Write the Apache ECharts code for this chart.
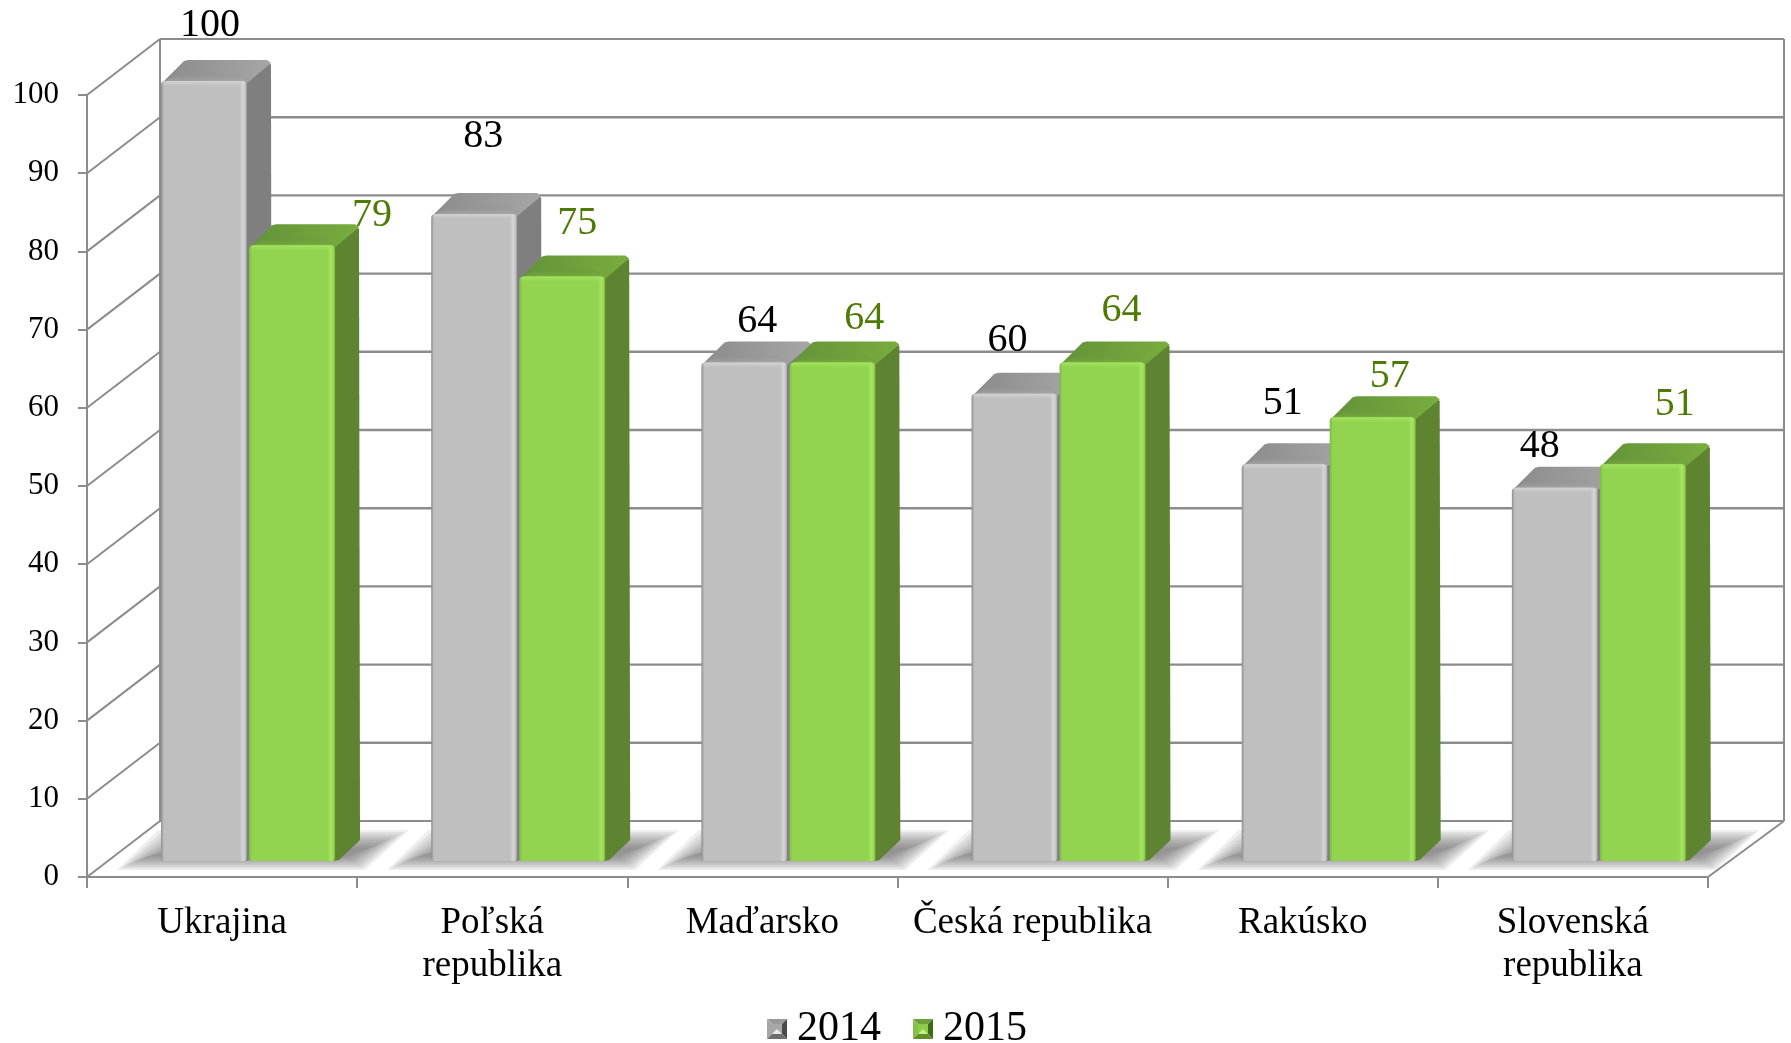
<!DOCTYPE html>
<html><head><meta charset="utf-8"><style>html,body{margin:0;background:#fff}#c{width:1791px;height:1043px}</style>
<script src="https://cdn.jsdelivr.net/npm/echarts@6/dist/echarts.min.js"></script></head>
<body><div id="c"></div><script>
const categories = ['Ukrajina','Poľská\nrepublika','Maďarsko','Česká republika','Rakúsko','Slovenská\nrepublika'];
const yTicks = [0,10,20,30,40,50,60,70,80,90,100];
const values2014 = [100,83,64,60,51,48];
const values2015 = [79,75,64,64,57,51];
// manually-moved data label offsets (px, from the bar's front top centre)
const labelShift2014 = [[6,-56],[9,-77],[13,-41],[-7,-53],[-2,-61],[-15,-41]];
const labelShift2015 = [[80,-30],[15,-53],[32,-44],[19,-52],[17,-41],[32,-60]];

const FONT = '"Liberation Serif","Times New Roman",serif';
const AXIS = '#8c8c8c';
const WALL = {dxL:73, dxR:76, dy:56};
const DEPTH = {dx:25, dy:21, baseUp:16, shift:0.096, width:0.322};
const GRAY = {front:'#bfbfbf', edgeL:'#8d8d8d', edgeR:'#d6d6d6', edgeO:'#8f8f8f', topB:'#8b8b8b', topF:'#b4b4b4', topR:'#a6a6a6', side:'#7f7f7f', bev:'#d2d2d2', label:'#000'};
const GREEN = {front:'#92d350', edgeL:'#7db843', edgeR:'#a6e760', edgeO:'#7fb845', topB:'#63923a', topF:'#7fb840', topR:'#78ad3e', side:'#5f8431', bev:'#a4e35f', label:'#4f7a05'};

function hgrad(stops){return {type:'linear',x:0,y:0,x2:1,y2:0,colorStops:stops};}
function vgrad(stops){return {type:'linear',x:0,y:0,x2:0,y2:1,colorStops:stops};}

function wallItem(params, api){
  const c = params.coordSys, v = api.value(1), p = api.coord([0,v]);
  const x0 = c.x, x1 = c.x + c.width, y = p[1];
  const kids = [
    {type:'line',shape:{x1:x0,y1:y,x2:x0+WALL.dxL,y2:y-WALL.dy},style:{stroke:AXIS,lineWidth:2}},
    {type:'line',shape:{x1:x0+WALL.dxL,y1:y-WALL.dy,x2:x1+WALL.dxR,y2:y-WALL.dy},style:{stroke:AXIS,lineWidth:v===0||v===100?2:2.4}}
  ];
  if(v===0){
    const top = api.coord([0,100])[1];
    kids.push({type:'line',shape:{x1:x0+WALL.dxL,y1:y-WALL.dy,x2:x0+WALL.dxL,y2:top-WALL.dy},style:{stroke:AXIS,lineWidth:2}});
    kids.push({type:'line',shape:{x1:x1+WALL.dxR,y1:y-WALL.dy,x2:x1+WALL.dxR,y2:top-WALL.dy},style:{stroke:AXIS,lineWidth:2}});
    kids.push({type:'line',shape:{x1:x1,y1:y,x2:x1+WALL.dxR,y2:y-WALL.dy},style:{stroke:AXIS,lineWidth:2}});
  }
  return {type:'group',children:kids};
}

function shadowItem(params, api){
  const p = api.coord([api.value(0),0]), band = api.size([1,0])[0];
  const w = band*DEPTH.width, sh = band*DEPTH.shift;
  const L = p[0]+sh-w, R = p[0]+sh+w, B = p[1]-DEPTH.baseUp;
  const kids = [];
  for(let k=0;k<10;k++){
    const yb = B+9-k*1.6, yt = B-31+k*2.0;
    kids.push({type:'polygon',shape:{points:[[L-44+k*3.6,yb],[R+30-k*2,yb],[R+74-k*4.4,yt],[L-3+k*3.4,yt]]},
      style:{fill:'rgba(95,95,95,0.1)'}});
  }
  return {type:'group',children:kids};
}

function barItem(pal, side, shifts){
  return function(params, api){
    const i = api.value(0), v = api.value(1);
    const p = api.coord([i,v]), z = api.coord([i,0]), band = api.size([1,0])[0];
    const w = band*DEPTH.width, sh = band*DEPTH.shift;
    const L = p[0]+sh+(side<0?-w:0)+(side<0?0:1), R = L+w-1;
    const B = z[1]-DEPTH.baseUp, T = p[1]-DEPTH.baseUp+2;
    const dx = DEPTH.dx, dy = DEPTH.dy;
    const s = shifts[params.dataIndex];
    return {type:'group',children:[
      {type:'polygon',shape:{points:[[R-1,T+2],[R+dx-4,T-dy+1],[R+dx-1,T-dy+5],[R+dx,B-dy],[R+4,B-1],[R-1,B]]},style:{fill:pal.side}},
      {type:'polygon',shape:{points:[[L+1,T+2],[L+dx-2,T-dy+1],[L+dx+2,T-dy],[R+dx-5,T-dy],[R+dx-1,T-dy+3],[R-1,T+3]]},
        style:{fill:{type:'linear',x:0,y:0,x2:1,y2:0.35,colorStops:[{offset:0,color:pal.topB},{offset:1,color:pal.topR}]}}},
      {type:'polygon',shape:{points:[[L+2,T+2],[L+dx-8,T-dy/2+2],[R-9,T-dy/2+2],[R-1,T+3]]},
        style:{fill:vgrad([{offset:0,color:pal.topB+'00'},{offset:1,color:pal.topF}])}},
      {type:'rect',shape:{x:L,y:T,width:R-L,height:B-T,r:[4,4,3,3]},
        style:{fill:hgrad([{offset:0,color:pal.edgeO},{offset:0.035,color:pal.front},{offset:0.915,color:pal.front},{offset:0.955,color:pal.edgeR},{offset:0.985,color:pal.front},{offset:1,color:pal.edgeO}])}},
      {type:'rect',shape:{x:L+2,y:T,width:R-L-4,height:5,r:[3,3,0,0]},
        style:{fill:vgrad([{offset:0,color:pal.bev},{offset:1,color:pal.bev+'00'}])}},
      {type:'text',style:{x:(L+R)/2+s[0],y:T+s[1],text:String(v),fill:pal.label,font:'40px '+FONT,textAlign:'center',textVerticalAlign:'middle'}}
    ]};
  };
}

function legendIcon(top,left,right,bottom,inner,tri){
  const svg = `<svg xmlns="http://www.w3.org/2000/svg" width="20" height="20" viewBox="0 0 20 20"><polygon points="0,0 20,0 15,5 5,5" fill="${top}"/><polygon points="0,0 5,5 5,15 0,20" fill="${left}"/><polygon points="20,0 20,20 15,15 15,5" fill="${right}"/><polygon points="0,20 20,20 15,15 5,15" fill="${bottom}"/><rect x="5" y="5" width="10" height="10" fill="${inner}"/><polygon points="5,15 15,15 10,10" fill="${tri}"/></svg>`;
  return 'image://data:image/svg+xml;charset=utf-8,'+encodeURIComponent(svg);
}

const chart = echarts.init(document.getElementById('c'),null,{renderer:'canvas'});
chart.setOption({
  animation:false, backgroundColor:'#fff',
  grid:{left:87,right:83,top:95,bottom:166,containLabel:false},
  legend:{left:762,top:1003,itemWidth:20,itemHeight:20,itemGap:32,selectedMode:false,
    textStyle:{fontFamily:FONT,fontSize:42,color:'#000',padding:[0,0,0,5]},
    data:[{name:'2014',icon:legendIcon('#9a9a9a','#a6a6a6','#4a4a4a','#6e6e6e','#a8a8a8','#e8e8e8')},
          {name:'2015',icon:legendIcon('#6f9f3a','#86c147','#3e6a1c','#5f8f2c','#8ecb4a','#c4f080')}]},
  xAxis:{type:'category',data:categories,boundaryGap:true,
    axisLine:{lineStyle:{color:AXIS,width:2}},
    axisTick:{show:true,alignWithLabel:false,length:11,lineStyle:{color:AXIS,width:2}},
    axisLabel:{interval:0,margin:25,fontFamily:FONT,fontSize:37,color:'#000',lineHeight:43,hideOverlap:false}},
  yAxis:{type:'value',min:0,max:100,interval:10,
    axisLine:{show:true,lineStyle:{color:AXIS,width:2}},
    axisTick:{show:true,length:9,lineStyle:{color:AXIS,width:2}},
    splitLine:{show:false},
    axisLabel:{margin:28,fontFamily:FONT,fontSize:31,color:'#000',padding:[9,0,0,0]}},
  series:[
    {type:'custom',name:'wall',silent:true,z:1,data:yTicks.map(v=>[0,v]),encode:{x:0,y:1},renderItem:wallItem},
    {type:'custom',name:'floor',silent:true,z:2,data:categories.map((_,i)=>[i,0]),encode:{x:0,y:1},renderItem:shadowItem},
    {type:'custom',name:'2014',z:3,itemStyle:{color:GRAY.front},data:values2014.map((v,i)=>[i,v]),encode:{x:0,y:1},renderItem:barItem(GRAY,-1,labelShift2014)},
    {type:'custom',name:'2015',z:4,itemStyle:{color:GREEN.front},data:values2015.map((v,i)=>[i,v]),encode:{x:0,y:1},renderItem:barItem(GREEN,1,labelShift2015)}
  ]
});
</script></body></html>
